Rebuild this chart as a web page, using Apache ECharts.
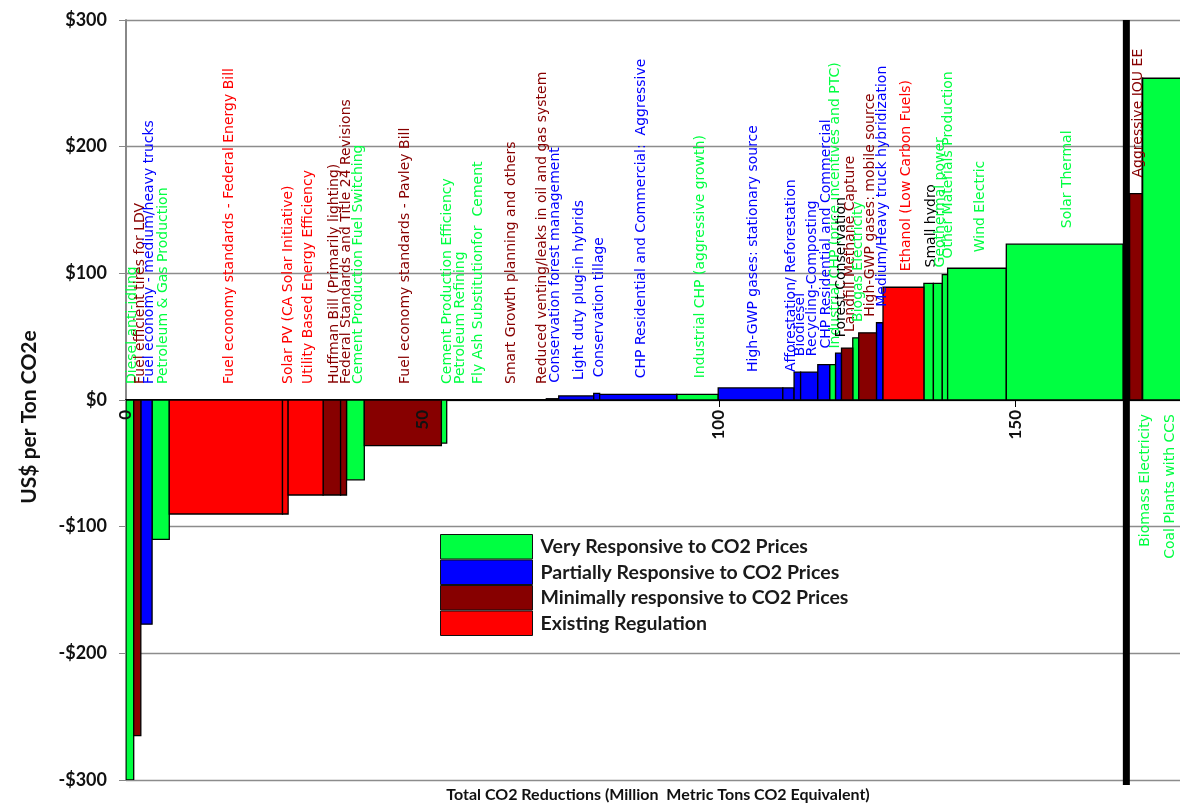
<!DOCTYPE html>
<html><head><meta charset="utf-8">
<script src="https://cdn.jsdelivr.net/npm/echarts@6/dist/echarts.min.js"></script>
<style>html,body{margin:0;padding:0;background:#fff}#c{width:1180px;height:804px}</style>
</head><body><div id="c"></div>
<script>
// ---- data ----
const measures = [
  'Diesel anti-idling','Fuel efficient tires for LDV','Fuel economy - medium/heavy trucks','Petroleum & Gas Production',
  'Fuel economy standards - Federal Energy Bill','Solar PV (CA Solar Initiative)','Utility Based Energy Efficiency',
  'Huffman Bill (Primarily lighting)','Federal Standards and Title 24 Revisions','Cement Production Fuel Switching',
  'Fuel economy standards - Pavley Bill','Cement Production Efficiency','Petroleum Refining','Fly Ash Substitutionfor  Cement',
  'Smart Growth planning and others','Reduced venting/leaks in oil and gas system','Conservation forest management',
  'Light duty plug-in hybrids','Conservation tillage','CHP Residential and Commercial:  Aggressive',
  'Industrial CHP (aggressive growth)','High-GWP gases: stationary source','Afforestation/ Reforestation','Biodiesel',
  'Recycling-Composting','CHP Residential and Commercial','Industrial CHP (price incentives and PTC)','Forest Conservation',
  'Landfill Methane Capture','Biogas Electricity','High-GWP gases: mobile source','Medium/Heavy truck hybridization',
  'Ethanol (Low Carbon Fuels)','Small hydro','Geothermal power','Other Materials Production','Wind Electric',
  'Solar Thermal','Aggressive IOU EE','Biomass Electricity','Coal Plants with CCS'
];
const category = ['V','M','P','V','E','E','E','M','M','V','M','V','V','V','M','M','P','P','P','P','V','P','P','P','P','P','V','P','M','V','M','P','E','V','V','V','V','V','M','V','V'];
const xStart = [0,1.3,2.5,4.4,7.3,26.4,27.35,33.25,36.2,37.2,40.2,53.2,54.1,57.6,60.4,68.7,70.9,73.0,78.9,79.9,92.9,99.9,110.8,112.7,113.8,116.7,118.7,119.7,120.7,122.6,123.6,126.6,127.7,134.6,136.2,137.7,138.6,148.5,169.3,171.4,171.5];
const xEnd   = [1.3,2.5,4.4,7.3,26.4,27.35,33.25,36.2,37.2,40.2,53.2,54.1,57.6,60.4,68.7,70.9,73.0,78.9,79.9,92.9,99.9,110.8,112.7,113.8,116.7,118.7,119.7,120.7,122.6,123.6,126.6,127.7,134.6,136.2,137.7,138.6,148.5,168.2,171.4,171.5,180];
const cost   = [-300,-265,-177,-110,-90,-90,-75,-75,-75,-63,-36,-34,0,0,0,0,1,3.2,5.3,4.5,4.5,9.5,9.5,22,22,28,28,37,41,49,53,61,89,92,92,99,104,123,163,254,254];
const categoryOrder = ['V','P','M','E'];
const categoryNames = {V:'Very Responsive to CO2 Prices',P:'Partially Responsive to CO2 Prices',M:'Minimally responsive to CO2 Prices',E:'Existing Regulation'};
const xTicks = [0,50,100,150];
const breakAt = 168.75;
const xMax = 177.8;

// ---- styles ----
const catColor = {V:'#00ff41',P:'#0000ff',M:'#870000',E:'#ff0000'};
const blackLabels = ['Forest Conservation','Small hydro'];
const FONT = 'Lato, "Open Sans", sans-serif';

const chart = echarts.init(document.getElementById('c'), null, {renderer:'canvas'});

function barRender(params, api){
  const x0 = api.value(0), x1 = api.value(1), v = api.value(2);
  const a = api.coord([x0, Math.max(v,0)]);
  const b = api.coord([x1, Math.min(v,0)]);
  return {type:'rect', shape:{x:a[0], y:a[1], width:b[0]-a[0], height:b[1]-a[1]},
    style:{fill:api.visual('color'), stroke:'#000', lineWidth:1.3}};
}

const series = categoryOrder.map(c => ({
  type:'custom', name:categoryNames[c], renderItem:barRender, clip:true,
  itemStyle:{color:catColor[c], borderColor:'#111', borderWidth:1},
  encode:{x:[0,1], y:2},
  data: measures.map((m,i)=>i).filter(i=>category[i]===c).map(i=>[xStart[i], xEnd[i], cost[i]]),
  z:2
}));

series.push({
  type:'custom', name:'labels', silent:true, z:5, clip:false,
  encode:{x:0, y:1},
  data: measures.map((m,i)=>[(xStart[i]+xEnd[i])/2, cost[i]]),
  renderItem(params, api){
    const i = params.dataIndex;
    const cx = api.value(0), v = api.value(1);
    const zeroY = api.coord([0,0])[1];
    const px = api.coord([cx,0])[0] + 3;
    let y, align;
    if (v > 200){ y = zeroY + 14; align = 'right'; }
    else { y = api.coord([cx, Math.max(v,0)])[1] - 16; align = 'left'; }
    const col = blackLabels.includes(measures[i]) ? '#000' : catColor[category[i]];
    return {type:'text', x:px, y:y, rotation:Math.PI/2,
      style:{text:measures[i], fill:col, fontSize:14, fontFamily:'"DejaVu Sans", sans-serif',
        align:align, verticalAlign:'middle', textAlign:align, textVerticalAlign:'middle'}};
  }
});

// x tick labels drawn at the zero line
series.push({
  type:'custom', name:'xticklabels', silent:true, z:5, clip:false,
  encode:{x:0, y:1},
  data: xTicks.map(v=>[v,0]),
  renderItem(params, api){
    const p = api.coord([api.value(0), 0]);
    return {type:'text', x:p[0], y:p[1]+10, rotation:Math.PI/2,
      style:{text:String(api.value(0)), fill:'#111', fontSize:17, fontWeight:'bold', fontFamily:FONT,
        align:'right', verticalAlign:'middle', textAlign:'right', textVerticalAlign:'middle'}};
  }
});

series.push({
  type:'custom', name:'break', silent:true, z:6, clip:false,
  encode:{x:0, y:1},
  data:[[breakAt, 0]],
  renderItem(params, api){
    const a = api.coord([api.value(0), 300]);
    const b = api.coord([api.value(0), -300]);
    return {type:'line', shape:{x1:a[0], y1:a[1], x2:b[0], y2:b[1]+5}, style:{stroke:'#000', lineWidth:7}};
  }
});

chart.setOption({
  animation:false,
  backgroundColor:'#fff',
  grid:{left:126, right:0, top:20, bottom:24, containLabel:false, outerBoundsMode:'none'},
  legend:{
    data: categoryOrder.map(c=>categoryNames[c]),
    orient:'vertical', left:440, top:534, itemWidth:92, itemHeight:24.5, itemGap:0,
    icon:'rect', padding:0, selectedMode:false,
    itemStyle:{borderColor:'#111', borderWidth:1},
    textStyle:{fontFamily:FONT, fontWeight:'bold', fontSize:19.5, color:'#1a1a1a', padding:[0,0,0,3]}
  },
  xAxis:{
    type:'value', min:0, max:xMax, interval:50,
    axisLine:{onZero:true, lineStyle:{color:'#000', width:2}},
    axisTick:{show:true, length:7, lineStyle:{color:'#000'}},
    axisLabel:{show:false},
    splitLine:{show:false}
  },
  yAxis:{
    type:'value', min:-300, max:300, interval:100,
    name:'US$ per Ton CO2e', nameLocation:'middle', nameGap:86,
    nameTextStyle:{fontFamily:FONT, fontWeight:'bold', fontSize:21, color:'#111', padding:[0,34,0,0]},
    axisLine:{show:true, lineStyle:{color:'#888', width:2}},
    axisTick:{show:true, length:7, lineStyle:{color:'#888'}},
    axisLabel:{margin:19, fontFamily:FONT, fontWeight:'bold', fontSize:18, color:'#111',
      formatter:v => (v<0?'-':'') + '$' + Math.abs(v)},
    splitLine:{show:true, lineStyle:{color:'#8c8c8c', width:1.3}}
  },
  graphic:[{type:'text', x:658, y:795, silent:true,
    style:{text:'Total CO2 Reductions (Million  Metric Tons CO2 Equivalent)', fill:'#111',
      fontFamily:FONT, fontWeight:'bold', fontSize:16,
      align:'center', verticalAlign:'middle', textAlign:'center', textVerticalAlign:'middle'}}],
  series: series
});
</script>
</body></html>
